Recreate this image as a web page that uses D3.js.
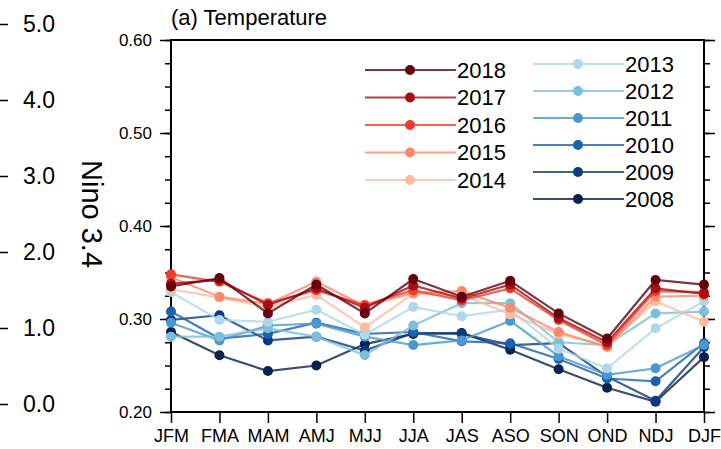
<!DOCTYPE html>
<html>
<head>
<meta charset="UTF-8">
<title>(a) Temperature - Nino 3.4</title>
<script src="https://d3js.org/d3.v7.min.js"></script>
<style>
    body { margin: 0; padding: 0; background: #fff; }
    svg { display: block; font-family: "Liberation Sans", Arial, Helvetica, sans-serif; }
    .axis path, .axis line { stroke: #000; }
    .axis text { fill: #000; }
</style>
</head>
<body>
<svg id="chart" width="721" height="449"></svg>
<script>
// seasons on the x axis
const months = ["JFM", "FMA", "MAM", "AMJ", "MJJ", "JJA", "JAS", "ASO", "SON", "OND", "NDJ", "DJF"];
const years = [2008, 2009, 2010, 2011, 2012, 2013, 2014, 2015, 2016, 2017, 2018];
const colors = ["#08214f", "#0c3b7c", "#1a62ad", "#4a98cf", "#7cbfdb", "#acd8ea",
                "#fcbba1", "#fc8a6a", "#ef3b2c", "#a50f15", "#67000d"];

const v2008 = [0.286, 0.261, 0.244, 0.250, 0.273, 0.284, 0.285, 0.267, 0.246, 0.226, 0.211, 0.259];
const v2009 = [0.299, 0.304, 0.277, 0.281, 0.266, 0.285, 0.284, 0.272, 0.274, 0.238, 0.212, 0.270];
const v2010 = [0.308, 0.279, 0.284, 0.296, 0.284, 0.286, 0.276, 0.274, 0.257, 0.236, 0.233, 0.274];
const v2011 = [0.296, 0.277, 0.293, 0.295, 0.281, 0.272, 0.277, 0.298, 0.260, 0.240, 0.247, 0.272];
const v2012 = [0.281, 0.281, 0.290, 0.281, 0.261, 0.293, 0.317, 0.317, 0.275, 0.272, 0.306, 0.308];
const v2013 = [0.329, 0.299, 0.297, 0.310, 0.283, 0.313, 0.303, 0.310, 0.268, 0.247, 0.290, 0.319];
const v2014 = [0.332, 0.323, 0.313, 0.326, 0.291, 0.327, 0.326, 0.305, 0.284, 0.271, 0.319, 0.297];
const v2015 = [0.345, 0.324, 0.316, 0.340, 0.314, 0.328, 0.330, 0.312, 0.286, 0.270, 0.324, 0.325];
const v2016 = [0.348, 0.340, 0.317, 0.331, 0.315, 0.331, 0.320, 0.333, 0.299, 0.272, 0.330, 0.329];
const v2017 = [0.338, 0.342, 0.315, 0.333, 0.312, 0.336, 0.322, 0.337, 0.301, 0.275, 0.333, 0.327];
const v2018 = [0.335, 0.344, 0.306, 0.337, 0.306, 0.343, 0.324, 0.341, 0.306, 0.279, 0.342, 0.337];

const yTicks = [0.20, 0.30, 0.40, 0.50, 0.60];
const yMinor = d3.range(0.2, 0.6001, 0.025);
// cut-off neighbour panel on the left
const leftTicks = [0, 1, 2, 3, 4, 5];

const values = [v2008, v2009, v2010, v2011, v2012, v2013, v2014, v2015, v2016, v2017, v2018];
const series = years.map((yr, i) => ({ year: yr, color: colors[i], values: values[i] }));

const svg = d3.select("#chart");

const x = d3.scalePoint().domain(months).range([171, 704]);
const y = d3.scaleLinear().domain([0.2, 0.6]).range([412, 40]);

// left strip from neighbouring panel
const yLeft = d3.scaleLinear().domain([0, 5]).range([404, 24]);
const leftAxis = svg.append("g")
    .attr("class", "axis")
    .attr("transform", "translate(0,0)")
    .call(d3.axisRight(yLeft).tickValues(leftTicks).tickFormat(d3.format(".1f"))
        .tickSize(8).tickPadding(15));
leftAxis.select(".domain").remove();
leftAxis.selectAll("line").attr("stroke-width", 1.5);
leftAxis.selectAll("text").style("font-size", "23px");

svg.append("text")
    .attr("transform", "translate(82,214) rotate(90)")
    .attr("text-anchor", "middle")
    .style("font-size", "29px")
    .text("Nino 3.4");

// minor ticks
svg.append("g").attr("class", "axis")
    .attr("transform", "translate(171,0)")
    .call(d3.axisLeft(y).tickValues(yMinor).tickSize(6).tickFormat(""));
svg.append("g").attr("class", "axis")
    .attr("transform", "translate(704,0)")
    .call(d3.axisRight(y).tickValues(yMinor).tickSize(6).tickFormat(""));

// major ticks
const yAxis = svg.append("g").attr("class", "axis")
    .attr("transform", "translate(171,0)")
    .call(d3.axisLeft(y).tickValues(yTicks).tickFormat(d3.format(".2f")).tickSize(11).tickPadding(8));
yAxis.selectAll("text").style("font-size", "17px");

svg.append("g").attr("class", "axis")
    .attr("transform", "translate(704,0)")
    .call(d3.axisRight(y).tickValues(yTicks).tickSize(11).tickFormat(""));

const xAxis = svg.append("g").attr("class", "axis")
    .attr("transform", "translate(0,412)")
    .call(d3.axisBottom(x).tickSize(11).tickPadding(6).tickSizeOuter(0));
xAxis.selectAll("text").style("font-size", "18px");

svg.selectAll(".axis line").attr("stroke-width", 1.5);

// frame
svg.append("rect")
    .attr("x", 171).attr("y", 40)
    .attr("width", 704 - 171).attr("height", 412 - 40)
    .attr("fill", "none").attr("stroke", "#000").attr("stroke-width", 2);

svg.append("text")
    .attr("x", 171).attr("y", 25)
    .style("font-size", "22px")
    .text("(a) Temperature");

// lines and markers
const line = d3.line().x((d, i) => x(months[i])).y(d => y(d));

const g = svg.append("g");
series.forEach(s => {
    g.append("path")
        .datum(s.values)
        .attr("d", line)
        .attr("fill", "none")
        .attr("stroke", s.color)
        .attr("stroke-opacity", 0.8)
        .attr("stroke-width", 2.2);
    g.selectAll(null)
        .data(s.values)
        .enter()
        .append("circle")
        .attr("cx", (d, i) => x(months[i]))
        .attr("cy", d => y(d))
        .attr("r", 5)
        .attr("fill", s.color);
});

// legend: reds left column, blues right column
const legendLeft = series.filter(s => s.year >= 2014).sort((a, b) => b.year - a.year);
const legendRight = series.filter(s => s.year <= 2013).sort((a, b) => b.year - a.year);

function drawLegend(items, x0, y0, step) {
    const lg = svg.append("g").attr("transform", `translate(${x0},${y0})`);
    const row = lg.selectAll("g").data(items).enter().append("g")
        .attr("transform", (d, i) => `translate(0,${i * step})`);
    row.append("line")
        .attr("x1", 0).attr("x2", 91)
        .attr("stroke", d => d.color)
        .attr("stroke-opacity", 0.8)
        .attr("stroke-width", 2.2);
    row.append("circle")
        .attr("cx", 45).attr("r", 5)
        .attr("fill", d => d.color);
    row.append("text")
        .attr("x", 92).attr("dy", "0.36em")
        .style("font-size", "22px")
        .text(d => d.year);
}
drawLegend(legendLeft, 365, 70, 27.5);
drawLegend(legendRight, 533, 64, 27);
</script>
</body>
</html>
